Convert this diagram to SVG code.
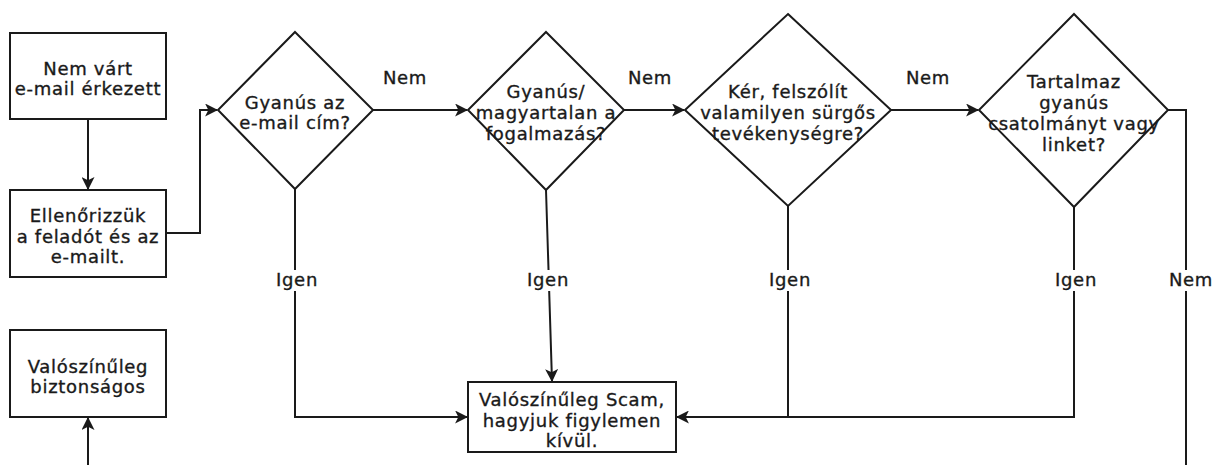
<svg xmlns="http://www.w3.org/2000/svg" width="1215" height="465" viewBox="0 0 1215 465">
<defs>
<style>
.shape{fill:#fff;stroke:#1a1a1a;stroke-width:2}
.t{font-family:"DejaVu Sans",Verdana,sans-serif;font-size:18px;letter-spacing:0.7px;fill:#1a1a1a;stroke:#1a1a1a;stroke-width:0.35px;text-anchor:middle}
.edge{fill:none;stroke:#1a1a1a;stroke-width:2}
.lbg{fill:#fff;stroke:none}
</style>
<marker id="arr" viewBox="0 0 12 12" refX="11" refY="6" markerWidth="13" markerHeight="13" markerUnits="userSpaceOnUse" orient="auto">
<path d="M0,0 L12,6 L0,12 L3,6 z" fill="#1a1a1a"/>
</marker>
</defs>
<rect width="1215" height="465" fill="#fff"/>
<g id="connectors">
<path class="edge" d="M88,119 L88,189" marker-end="url(#arr)"/>
<path class="edge" d="M166,233 L200,233 L200,110 L217,110" marker-end="url(#arr)"/>
<path class="edge" d="M373,110 L467,110" marker-end="url(#arr)"/>
<path class="edge" d="M624,110 L684,110" marker-end="url(#arr)"/>
<path class="edge" d="M891,110 L978,110" marker-end="url(#arr)"/>
<path class="edge" d="M295,189 L295,417 L467,417" marker-end="url(#arr)"/>
<path class="edge" d="M546,190 L552,381" marker-end="url(#arr)"/>
<path class="edge" d="M788,206 L788,417"/>
<path class="edge" d="M1074,207 L1074,417 L677,417" marker-end="url(#arr)"/>
<path class="edge" d="M1168,110 L1186,110 L1186,465"/>
<path class="edge" d="M88,465 L88,418" marker-end="url(#arr)"/>
<rect class="lbg" x="272" y="270" width="48" height="21"/>
<rect class="lbg" x="524" y="270" width="48" height="21"/>
<rect class="lbg" x="765" y="270" width="48" height="21"/>
<rect class="lbg" x="1051" y="270" width="48" height="21"/>
<rect class="lbg" x="1165" y="270" width="50" height="21"/>
<text class="t" x="405" y="84">Nem</text>
<text class="t" x="650" y="84">Nem</text>
<text class="t" x="928" y="84">Nem</text>
<text class="t" x="297" y="286">Igen</text>
<text class="t" x="548" y="286">Igen</text>
<text class="t" x="790" y="286">Igen</text>
<text class="t" x="1076" y="286">Igen</text>
<text class="t" x="1191" y="286">Nem</text>
</g>
<g id="start">
<rect class="shape" x="10" y="33" width="156" height="86"/>
<text class="t" x="88" y="75">Nem várt</text>
<text class="t" x="88" y="95">e-mail érkezett</text>
</g>
<g id="check">
<rect class="shape" x="10" y="190" width="156" height="87"/>
<text class="t" x="88" y="222">Ellenőrizzük</text>
<text class="t" x="88" y="243">a feladót és az</text>
<text class="t" x="88" y="263">e-mailt.</text>
</g>
<g id="d1">
<polygon class="shape" points="295,32 373,110 295,189 218,110"/>
<text class="t" x="295" y="109">Gyanús az</text>
<text class="t" x="295" y="129">e-mail cím?</text>
</g>
<g id="d2">
<polygon class="shape" points="546,32 624,110 546,190 468,110"/>
<text class="t" x="546" y="98">Gyanús/</text>
<text class="t" x="546" y="119">magyartalan a</text>
<text class="t" x="546" y="140">fogalmazás?</text>
</g>
<g id="d3">
<polygon class="shape" points="788,14 891,110 788,206 685,110"/>
<text class="t" x="788" y="98">Kér, felszólít</text>
<text class="t" x="788" y="119">valamilyen sürgős</text>
<text class="t" x="788" y="140">tevékenységre?</text>
</g>
<g id="d4">
<polygon class="shape" points="1074,14 1168,110 1074,207 979,110"/>
<text class="t" x="1074" y="88">Tartalmaz</text>
<text class="t" x="1074" y="109">gyanús</text>
<text class="t" x="1074" y="130">csatolmányt vagy</text>
<text class="t" x="1074" y="151">linket?</text>
</g>
<g id="scam">
<rect class="shape" x="468" y="382" width="208" height="70"/>
<text class="t" x="572" y="406">Valószínűleg Scam,</text>
<text class="t" x="572" y="427">hagyjuk figylemen</text>
<text class="t" x="572" y="447">kívül.</text>
</g>
<g id="safe">
<rect class="shape" x="10" y="330" width="156" height="87"/>
<text class="t" x="88" y="373">Valószínűleg</text>
<text class="t" x="88" y="393">biztonságos</text>
</g>
</svg>
